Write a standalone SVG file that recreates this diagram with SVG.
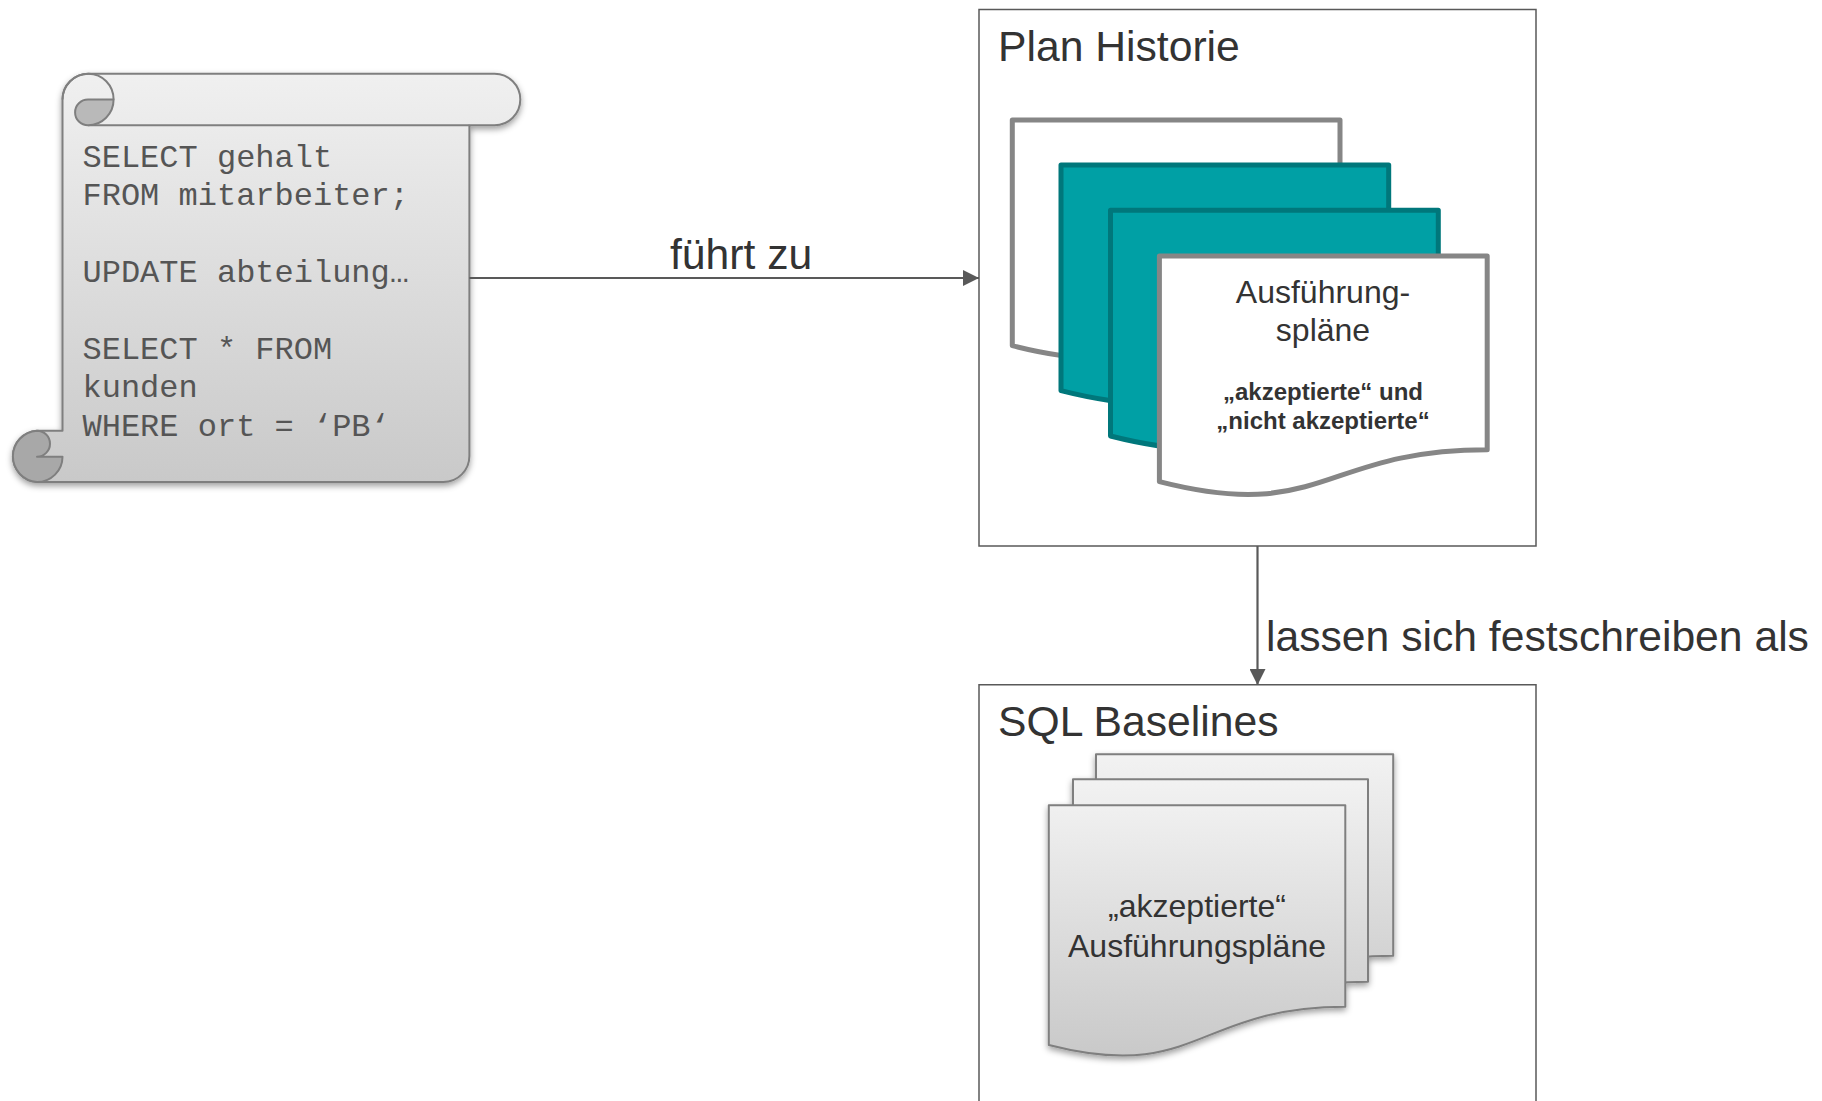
<svg xmlns="http://www.w3.org/2000/svg" width="1822" height="1101" viewBox="0 0 1822 1101">
<style>
text{font-family:"Liberation Sans",Arial,sans-serif;fill:#333}
.lbl{font-size:42.67px}
.mono{font-family:"Liberation Mono","Courier New",monospace;font-size:32px;fill:#555}
.c{text-anchor:middle;font-size:32px}
.b{text-anchor:middle;font-size:24px;font-weight:bold}
.box{fill:#fff;stroke:#595959;stroke-width:1.5}
.white{fill:#fff;stroke:#868686;stroke-width:5;stroke-linejoin:round}
.teal{fill:#00a0a5;stroke:#00777b;stroke-width:5;stroke-linejoin:round}
.gray{stroke:#7f7f7f;stroke-width:2;stroke-linejoin:round}
.conn{fill:none;stroke:#595959;stroke-width:2.2}
</style>
<defs>
<linearGradient id="g" x1="0" y1="0" x2="0" y2="1"><stop offset="0" stop-color="#f0f0f0"/><stop offset="1" stop-color="#c9c9c9"/></linearGradient>
<linearGradient id="gd" x1="0" y1="0" x2="0" y2="1"><stop offset="0" stop-color="#f2f2f2"/><stop offset="1" stop-color="#cccccc"/></linearGradient>
<filter id="s" x="-10%" y="-10%" width="120%" height="120%"><feDropShadow dx="0" dy="3" stdDeviation="3" flood-color="#000" flood-opacity=".38"/></filter>
<marker id="a" viewBox="0 0 16 16" refX="16" refY="8" markerUnits="userSpaceOnUse" markerWidth="16" markerHeight="16" orient="auto"><path d="M0,0L16,8L0,16Z" fill="#595959"/></marker>
</defs>

<g id="plan-historie">
<rect class="box" x="979" y="9.5" width="557" height="536.5"/>
<text class="lbl" x="998" y="61">Plan Historie</text>
<path class="white" d="M1012.300,120H1340V313.700C1176,313.700 1176,387.500 1012.300,345.700Z"/>
<path class="teal" d="M1061,165H1388.700V358.700C1225,358.700 1225,432.500 1061,390.700Z"/>
<path class="teal" d="M1110.500,210.300H1438.300V404C1274,404 1274,477.800 1110.500,436Z"/>
<path class="white" d="M1159.400,256H1487.200V449.700C1323,449.700 1323,523.500 1159.400,481.700Z"/>
<text class="c" x="1323" y="303">Ausführung-</text>
<text class="c" x="1323" y="341">spläne</text>
<text class="b" x="1323" y="400">„akzeptierte“ und</text>
<text class="b" x="1323" y="429">„nicht akzeptierte“</text>
</g>

<g id="sql-baselines">
<path class="box" d="M979,1101V684.700H1536V1101"/>
<text class="lbl" x="998" y="736">SQL Baselines</text>
<g filter="url(#s)">
<path class="gray" fill="url(#gd)" d="M1096,754.300H1393.200V955.700C1245,955.700 1245,1032 1096,990Z"/>
<path class="gray" fill="url(#gd)" d="M1073,779.300H1368V981.700C1220,981.700 1220,1057 1073,1015Z"/>
<path class="gray" fill="url(#g)" d="M1048.800,805.300H1345.300V1006.700C1197,1006.700 1197,1083 1048.800,1045Z"/>
</g>
<text class="c" x="1197" y="917">„akzeptierte“</text>
<text class="c" x="1197" y="957">Ausführungspläne</text>
</g>

<g id="sql-scroll">
<g filter="url(#s)">
<path class="gray" fill="url(#g)" d="M62.500,99.500A26,25.800 0 0 1 88.500,73.700H494.500A25.800,25.800 0 0 1 494.500,125.300H469.400V456A26,26 0 0 1 443.400,482H37A25.700,25.700 0 0 1 37,430.700H62.500Z"/>
</g>
<path class="gray" fill="none" d="M88,125.300H469.400"/>
<path class="gray" fill="#b9b9b9" d="M113.600,99.500H88A12.900,12.900 0 0 0 88,125.300A25.600,25.800 0 0 0 113.600,99.500Z"/>
<path class="gray" fill="none" d="M62.500,99.500A26,25.800 0 0 1 88.500,73.700A25.100,25.800 0 0 1 113.600,99.500"/>
<path class="gray" fill="#a8a8a8" d="M37,430.700A13,13 0 0 1 37,456.700H62.500A25.500,25.300 0 0 1 37,482A25.700,25.700 0 0 1 37,430.700Z"/>
<text class="mono" x="82.500" y="167">SELECT gehalt</text>
<text class="mono" x="82.500" y="205">FROM mitarbeiter;</text>
<text class="mono" x="82.500" y="282">UPDATE abteilung…</text>
<text class="mono" x="82.500" y="359">SELECT * FROM</text>
<text class="mono" x="82.500" y="397">kunden</text>
<text class="mono" x="82.500" y="436">WHERE ort = ‘PB‘</text>
</g>

<g id="connectors">
<path class="conn" d="M469.400,278H979" marker-end="url(#a)"/>
<path class="conn" d="M1257.500,546V685" marker-end="url(#a)"/>
</g>
<text class="lbl" x="670" y="269">führt zu</text>
<text class="lbl" x="1266" y="651">lassen sich festschreiben als</text>
</svg>
